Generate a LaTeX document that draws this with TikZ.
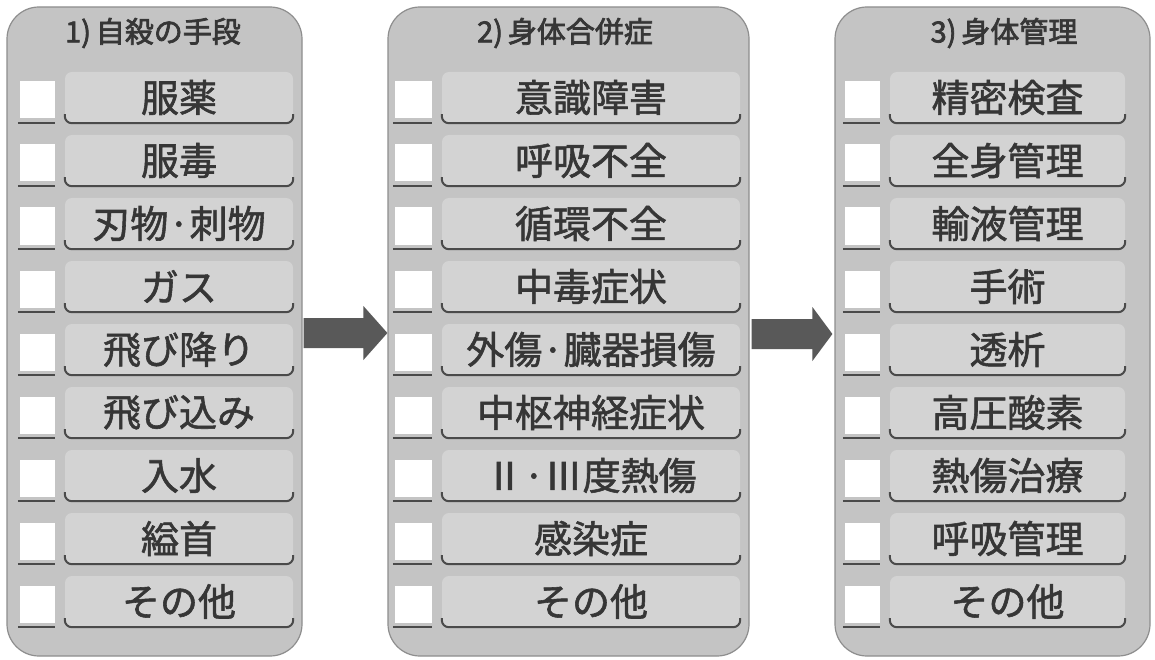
\documentclass[tikz,border=0pt]{standalone}
\usepackage{fontspec}
\newfontfamily\cjk[FakeBold=1.5]{Noto Sans CJK JP}
\newfontfamily\cjkb[FakeBold=2.5]{Noto Sans CJK JP}
\usetikzlibrary{calc}
\definecolor{colbg}{HTML}{C4C4C4}
\definecolor{itembg}{HTML}{D3D3D3}
\definecolor{colline}{HTML}{8E8E8E}
\definecolor{dark}{HTML}{4A4A4A}
\definecolor{txt}{HTML}{363636}
\definecolor{arrowc}{HTML}{595959}
\tikzset{
 column/.style={draw=colline, line width=1.2pt, fill=colbg, rounded corners=32pt, minimum height=649pt, inner sep=0pt},
 itembox/.style={fill=itembg, rounded corners=7pt, minimum height=51pt, inner sep=0pt, text=txt, font=\cjk\fontsize{38}{42}\selectfont},
 checkbox/.style={fill=white, minimum height=37pt, inner sep=0pt},
 title/.style={text=txt, font=\cjkb\fontsize{29}{34}\selectfont, inner sep=0pt},
 underline/.style={draw=dark, line width=2pt},
 blockarrow/.style={fill=arrowc},
}
\begin{document}
\begin{tikzpicture}[x=1pt,y=-1pt]
\useasboundingbox (0,0) rectangle (1155,660);
\fill[white] (0,0) rectangle (1155,660);
% columns
\node[column, minimum width=295pt] (col1) at (154.5,331.5) {};
\node[column, minimum width=361pt] (col2) at (568.5,331.5) {};
\node[column, minimum width=315pt] (col3) at (992.5,331.5) {};
% titles
\node[title] (t1) at (153,33) {1)\,自殺の手段};
\node[title] (t2) at (565,33) {2)\,身体合併症};
\node[title] (t3) at (1004,33) {3)\,身体管理};
% column 1 rows
\foreach \t [count=\i] in {服薬,服毒,刃物·刺物,ガス,飛び降り,飛び込み,入水,縊首,その他}{
  \pgfmathsetmacro\yb{123+63*(\i-1)}
  \node[itembox, minimum width=228pt] (c1r\i) at (179,\yb-25.5) {\t};
  \node[checkbox, minimum width=35pt] (b1r\i) at (37.5,\yb-23) {};
  \draw[underline, rounded corners=7pt] ($(c1r\i.south west)+(0,-9)$) -- (c1r\i.south west) -- (c1r\i.south east) -- ($(c1r\i.south east)+(0,-9)$);
  \draw[underline] ($(b1r\i.south west |- c1r\i.south)+(-2,0)$) -- (b1r\i.south east |- c1r\i.south);
}
% column 2 rows
\foreach \t [count=\i] in {意識障害,呼吸不全,循環不全,中毒症状,外傷·臓器損傷,中枢神経症状,Ⅱ·Ⅲ度熱傷,感染症,その他}{
  \pgfmathsetmacro\yb{123+63*(\i-1)}
  \node[itembox, minimum width=298pt] (c2r\i) at (591,\yb-25.5) {\t};
  \node[checkbox, minimum width=37pt] (b2r\i) at (413.5,\yb-23) {};
  \draw[underline, rounded corners=7pt] ($(c2r\i.south west)+(0,-9)$) -- (c2r\i.south west) -- (c2r\i.south east) -- ($(c2r\i.south east)+(0,-9)$);
  \draw[underline] ($(b2r\i.south west |- c2r\i.south)+(-2,0)$) -- (b2r\i.south east |- c2r\i.south);
}
% column 3 rows
\foreach \t [count=\i] in {精密検査,全身管理,輸液管理,手術,透析,高圧酸素,熱傷治療,呼吸管理,その他}{
  \pgfmathsetmacro\yb{123+63*(\i-1)}
  \node[itembox, minimum width=235pt] (c3r\i) at (1007.5,\yb-25.5) {\t};
  \node[checkbox, minimum width=35pt] (b3r\i) at (862.5,\yb-23) {};
  \draw[underline, rounded corners=7pt] ($(c3r\i.south west)+(0,-9)$) -- (c3r\i.south west) -- (c3r\i.south east) -- ($(c3r\i.south east)+(0,-9)$);
  \draw[underline] ($(b3r\i.south west |- c3r\i.south)+(-2,0)$) -- (b3r\i.south east |- c3r\i.south);
}
% arrows
\coordinate (a1s) at (col1.east |- 0,333);
\coordinate (a1e) at (col2.west |- 0,333);
\coordinate (a2s) at (col2.east |- 0,334);
\coordinate (a2e) at (col3.west |- 0,334);
\fill[blockarrow] ($(a1s)+(1,-15)$) -- ($(a1e)+(-24,-15)$) -- ($(a1e)+(-24,-27)$) -- (a1e) -- ($(a1e)+(-24,27)$) -- ($(a1e)+(-24,15)$) -- ($(a1s)+(1,15)$) -- cycle;
\fill[blockarrow] ($(a2s)+(2,-15)$) -- ($(a2e)+(-22,-15)$) -- ($(a2e)+(-22,-27)$) -- ($(a2e)+(-2,0)$) -- ($(a2e)+(-22,27)$) -- ($(a2e)+(-22,15)$) -- ($(a2s)+(2,15)$) -- cycle;
\end{tikzpicture}
\end{document}
